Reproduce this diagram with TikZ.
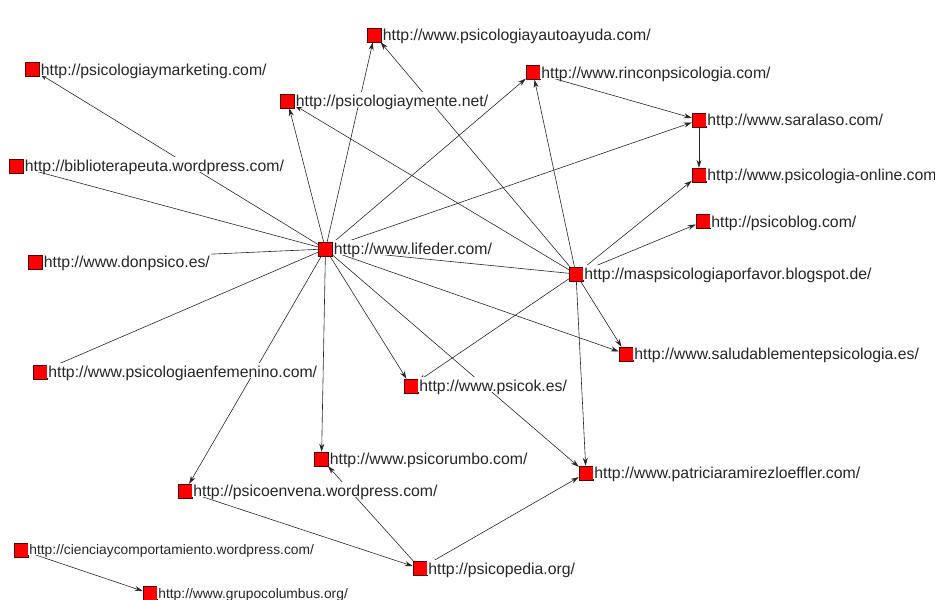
\documentclass[tikz,border=0pt]{standalone}
\usepackage{fontspec}
\setmainfont{Liberation Sans}
\usetikzlibrary{arrows.meta}
\pgfdeclarelayer{edges}
\pgfsetlayers{edges,main}

\tikzset{
	site/.style={draw=red!35!black, fill=red, minimum size=14pt, inner sep=0pt},
	lab/.style={anchor=base west, fill=white, inner xsep=1pt, inner ysep=0.5pt, text height=14pt, text depth=0pt, yshift=-5.5pt, text=black!85, font=\fontsize{15.8}{18}\selectfont},
	smalllab/.style={lab, yshift=1pt, text height=12pt, font=\fontsize{13.8}{16}\selectfont},
	link/.style={-{Stealth[length=8pt,width=5pt]}, black!85, line width=0.6pt}
}

\begin{document}
\begin{tikzpicture}[x=1pt,y=-1pt]
		\useasboundingbox (0,0) rectangle (935,600);
		% sites
		\node[site] (autoayuda) at (374.5,35) {};
		\node[site] (marketing) at (32.5,69.5) {};
		\node[site] (rincon) at (533,72.5) {};
		\node[site] (mente) at (287.5,101) {};
		\node[site] (saralaso) at (699,120) {};
		\node[site] (biblio) at (16.5,166) {};
		\node[site] (online) at (699,175) {};
		\node[site] (psicoblog) at (703,221.5) {};
		\node[site] (lifeder) at (325.5,249) {};
		\node[site] (donpsico) at (35.5,262) {};
		\node[site] (mas) at (576,274) {};
		\node[site] (saludable) at (626,354) {};
		\node[site] (enfemenino) at (40,372) {};
		\node[site] (psicok) at (411,386) {};
		\node[site] (psicorumbo) at (321.5,459) {};
		\node[site] (patricia) at (586,473) {};
		\node[site] (psicoenvena) at (185,491) {};
		\node[site] (ciencia) at (21,550) {};
		\node[site] (psicopedia) at (420,568.5) {};
		\node[site] (columbus) at (150,593.5) {};
		% links
		\begin{pgfonlayer}{edges}
		\draw[link] (lifeder) -- (marketing);
		\draw[link] (lifeder) -- (biblio);
		\draw[link] (lifeder) -- (donpsico);
		\draw[link] (lifeder) -- (enfemenino);
		\draw[link] (lifeder) -- (psicoenvena);
		\draw[link] (lifeder) -- (psicorumbo);
		\draw[link] (lifeder) -- (psicok);
		\draw[link] (lifeder) -- (patricia);
		\draw[link] (lifeder) -- (saludable);
		\draw[link] (lifeder) -- (saralaso);
		\draw[link] (lifeder) -- (rincon);
		\draw[link] (lifeder) -- (mente);
		\draw[link] (lifeder) -- (autoayuda);
		\draw[link] (mas) -- (autoayuda);
		\draw[link] (mas) -- (mente);
		\draw[link] (mas) -- (rincon);
		\draw[link] (mas) -- (online);
		\draw[link] (mas) -- (psicoblog);
		\draw[link] (mas) -- (saludable);
		\draw[link] (mas) -- (patricia);
		\draw[link] (mas) -- (psicok);
		\draw[link] (mas) -- (lifeder);
		\draw[link] (rincon) -- (saralaso);
		\draw[link] (saralaso) -- (online);
		\draw[link] (psicoenvena) -- (psicopedia);
		\draw[link] (psicopedia) -- (psicorumbo);
		\draw[link] (psicopedia) -- (patricia);
		\draw[link] (ciencia) -- (columbus);
		\end{pgfonlayer}
		% labels
		\node[lab] (autoayuda-t) at (autoayuda.east) {http://www.psicologiayautoayuda.com/};
		\node[lab] (marketing-t) at (marketing.east) {http://psicologiaymarketing.com/};
		\node[lab] (rincon-t) at (rincon.east) {http://www.rinconpsicologia.com/};
		\node[lab] (mente-t) at (mente.east) {http://psicologiaymente.net/};
		\node[lab] (saralaso-t) at (saralaso.east) {http://www.saralaso.com/};
		\node[lab] (biblio-t) at (biblio.east) {http://biblioterapeuta.wordpress.com/};
		\node[lab] (online-t) at (online.east) {http://www.psicologia-online.com};
		\node[lab] (psicoblog-t) at (psicoblog.east) {http://psicoblog.com/};
		\node[lab] (lifeder-t) at (lifeder.east) {http://www.lifeder.com/};
		\node[lab] (donpsico-t) at (donpsico.east) {http://www.donpsico.es/};
		\node[lab] (mas-t) at (mas.east) {http://maspsicologiaporfavor.blogspot.de/};
		\node[lab] (saludable-t) at (saludable.east) {http://www.saludablementepsicologia.es/};
		\node[lab] (enfemenino-t) at (enfemenino.east) {http://www.psicologiaenfemenino.com/};
		\node[lab] (psicok-t) at (psicok.east) {http://www.psicok.es/};
		\node[lab] (psicorumbo-t) at (psicorumbo.east) {http://www.psicorumbo.com/};
		\node[lab] (patricia-t) at (patricia.east) {http://www.patriciaramirezloeffler.com/};
		\node[lab] (psicoenvena-t) at (psicoenvena.east) {http://psicoenvena.wordpress.com/};
		\node[smalllab] (ciencia-t) at (ciencia.east) {http://cienciaycomportamiento.wordpress.com/};
		\node[lab] (psicopedia-t) at (psicopedia.east) {http://psicopedia.org/};
		\node[smalllab] (columbus-t) at (columbus.east) {http://www.grupocolumbus.org/};
\end{tikzpicture}
\end{document}
